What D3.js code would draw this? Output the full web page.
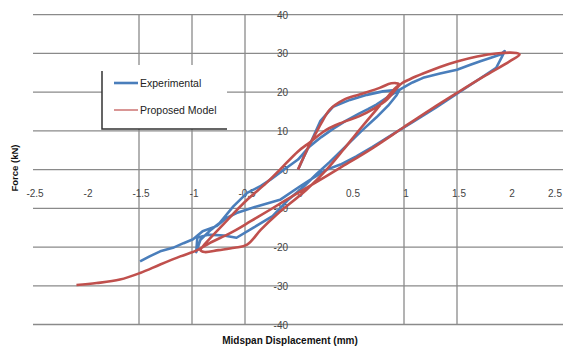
<!DOCTYPE html>
<html>
<head>
<meta charset="utf-8">
<script src="https://cdn.jsdelivr.net/npm/d3@7"></script>
<style>
  body { margin: 0; background: #fff; }
  svg { display: block; }
</style>
</head>
<body>
<script>
// Experimental (blue) hysteresis path
const expDisp = [0, 0.05, 0.12, 0.21, 0.33, 0.49, 0.65, 0.8, 0.96,
  0.93, 0.85, 0.74, 0.6, 0.45, 0.3, 0.18, 0.05, -0.1, -0.24, -0.42, -0.58, -0.7, -0.85, -0.95, -0.96,
  -0.92, -0.82, -0.74, -0.61, -0.48, -0.35, -0.26, -0.12, 0, 0.11, 0.22, 0.33, 0.45, 0.58, 0.66, 0.74, 0.85, 0.98,
  1.08, 1.18, 1.34, 1.5, 1.62, 1.72, 1.82, 1.91, 1.95, 1.92, 1.87,
  1.7, 1.5, 1.3, 1.1, 0.9, 0.7, 0.55, 0.4, 0.27, 0.14, 0.02, -0.17, -0.3, -0.39, -0.58, -0.68, -0.77, -0.9, -0.99, -1.08, -1.18, -1.3, -1.4, -1.49];
const expForce = [0, 3, 7, 12.5, 16.2, 18, 19.3, 20.2, 20.7,
  19.2, 16.5, 13.5, 10, 6, 2, -1, -4.5, -8, -12, -15, -17.6, -17, -16.8, -17.6, -21.3,
  -18.1, -15.5, -13.8, -9.5, -6, -4.2, -2.6, 0.2, 2.6, 6, 8.4, 10.5, 12.6, 14.5, 15.6, 16.8, 18.8, 21,
  22.5, 23.7, 24.8, 25.8, 27, 28, 28.9, 29.7, 30.6, 28.9, 26.3,
  23.2, 19.6, 16, 12.6, 9.2, 5.8, 3.4, 1.3, 0, -2.2, -4.3, -7.8, -8.8, -9.5, -11.2, -12.6, -14.6, -15.9, -18, -19, -20.2, -21.1, -22.4, -23.7];

// Proposed model (red) hysteresis path
const modelDisp = [0, 0.05, 0.11, 0.17, 0.22, 0.3, 0.43, 0.58, 0.77, 0.88, 0.95,
  0.9, 0.74, 0.58, 0.43, 0.27, 0.08, -0.2, -0.35, -0.48,
  -0.6, -0.75, -0.88, -0.92,
  -0.9, -0.7, -0.48, -0.3, -0.17, 0, 0.11, 0.27, 0.42, 0.58, 0.72, 0.84, 0.93, 0.98,
  1.06, 1.18, 1.34, 1.5, 1.69, 1.87, 2.06, 2.09,
  2.0, 1.75, 1.5, 1.25, 1.0, 0.7, 0.4, 0.2, 0, -0.26, -0.45, -0.64, -0.83, -0.95, -1.11, -1.3, -1.49, -1.68, -1.9, -2.09];
const modelForce = [0, 3, 6.5, 9.5, 12, 15.5, 18, 19.4, 21.1, 22.3, 22.1,
  20.5, 15.5, 10.3, 5.2, 0, -5.2, -11.6, -15.5, -19.4,
  -20.2, -20.8, -21.3, -20.8,
  -19.9, -14, -7.8, -3.5, 0, 4.7, 7, 10.3, 12.2, 13.8, 15.8, 18.1, 21, 22.3,
  23.4, 24.8, 26.5, 27.9, 29.2, 30, 30.1, 29.7,
  28, 24, 19.8, 15.5, 11, 5.5, 0.5, -2.8, -6, -10.3, -13.4, -16.4, -18.9, -20.8, -22.4, -24.5, -26.7, -28.4, -29.3, -29.8];

const xTicks = [-2.5, -2, -1.5, -1, -0.5, 0, 0.5, 1, 1.5, 2, 2.5];
const yTicks = [-40, -30, -20, -10, 0, 10, 20, 30, 40];
const vGrid = [-1.5, -1, -0.5, 1, 1.5];
const seriesNames = ["Experimental", "Proposed Model"];

const width = 563;
const height = 347;
const blue = "#4a7ebb";
const red = "#c0504d";

const x = d3.scaleLinear().domain([-2.5, 2.5]).range([33, 563]);
const y = d3.scaleLinear().domain([-40, 40]).range([324.5, 14.7]);

const svg = d3.select("body").append("svg")
  .attr("width", width)
  .attr("height", height)
  .style("font-family", "'Liberation Sans', Arial, sans-serif");

// gridlines
svg.append("g").selectAll("line")
  .data(yTicks)
  .join("line")
  .attr("x1", x(-2.5)).attr("x2", x(2.5))
  .attr("y1", d => y(d)).attr("y2", d => y(d))
  .attr("stroke", "#8a8a8a").attr("stroke-width", 1.3);

svg.append("g").selectAll("line")
  .data(vGrid)
  .join("line")
  .attr("x1", d => x(d)).attr("x2", d => x(d))
  .attr("y1", y(40)).attr("y2", y(-40))
  .attr("stroke", "#8a8a8a").attr("stroke-width", 1.3);

// tick labels (last one sits at the right edge, as in the original)
svg.append("g").selectAll("text")
  .data(xTicks)
  .join("text")
  .attr("x", (d, i) => i === xTicks.length - 1 ? x(d) - 8 : x(d) + 2)
  .attr("y", y(0) + 27)
  .attr("text-anchor", "middle")
  .attr("font-size", 10)
  .attr("fill", "#444")
  .text(d => d);

svg.append("g").selectAll("text")
  .data(yTicks)
  .join("text")
  .attr("x", x(0) - 10)
  .attr("y", d => y(d) + 4)
  .attr("text-anchor", "end")
  .attr("font-size", 10)
  .attr("fill", "#444")
  .text(d => d);

// curves
const expPts = expDisp.map((d, i) => [d, expForce[i]]);
const modelPts = modelDisp.map((d, i) => [d, modelForce[i]]);

const line = d3.line().x(d => x(d[0])).y(d => y(d[1]));

svg.append("path")
  .attr("d", line.curve(d3.curveLinear)(expPts))
  .attr("fill", "none")
  .attr("stroke", blue)
  .attr("stroke-width", 2.6)
  .attr("stroke-linejoin", "round");

svg.append("path")
  .attr("d", line.curve(d3.curveCatmullRom.alpha(0.5))(modelPts))
  .attr("fill", "none")
  .attr("stroke", red)
  .attr("stroke-width", 2.6)
  .attr("stroke-linejoin", "round");

// legend
const legend = svg.append("g");
legend.append("rect")
  .attr("x", 102).attr("y", 65)
  .attr("width", 125).attr("height", 64)
  .attr("fill", "#fff");
legend.append("path")
  .attr("d", "M102,71V129H227")
  .attr("fill", "none")
  .attr("stroke", "#333")
  .attr("stroke-width", 1.5);

const legendItems = legend.selectAll("g.item")
  .data(seriesNames)
  .join("g")
  .attr("class", "item")
  .attr("transform", (d, i) => `translate(114, ${83 + i * 27})`);

legendItems.append("line")
  .attr("x1", 0).attr("x2", 24)
  .attr("stroke", (d, i) => i === 0 ? blue : red)
  .attr("stroke-width", (d, i) => i === 0 ? 2.6 : 1.2);

legendItems.append("text")
  .attr("x", 26)
  .attr("y", 4)
  .attr("font-size", 10.5)
  .attr("fill", "#222")
  .text(d => d);

// axis titles
svg.append("text")
  .attr("transform", `translate(18, 168) rotate(-90)`)
  .attr("text-anchor", "middle")
  .attr("font-size", 9.5)
  .attr("font-weight", "bold")
  .attr("fill", "#111")
  .text("Force (kN)");

svg.append("text")
  .attr("x", 290)
  .attr("y", 344)
  .attr("text-anchor", "middle")
  .attr("font-size", 10)
  .attr("font-weight", "bold")
  .attr("fill", "#111")
  .text("Midspan Displacement (mm)");
</script>
</body>
</html>
